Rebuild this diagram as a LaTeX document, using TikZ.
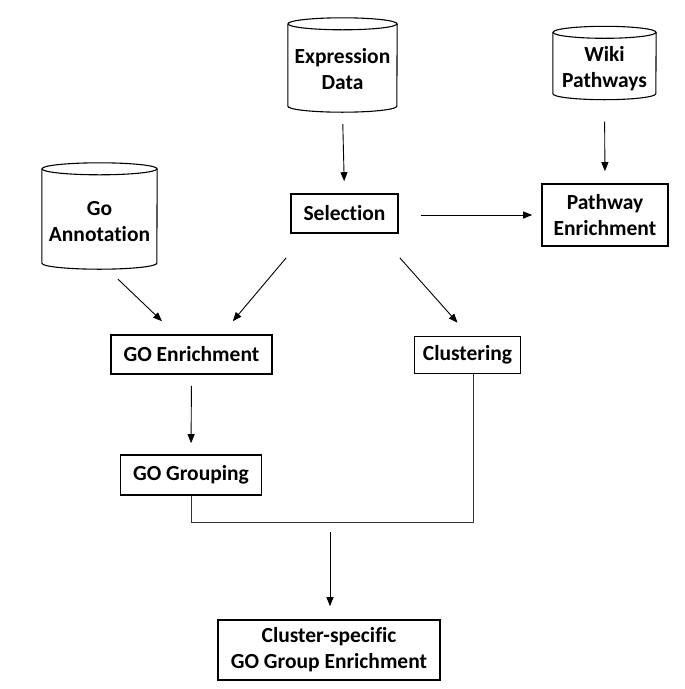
\documentclass[tikz,border=0pt]{standalone}
\usepackage{fontspec}
\setmainfont{Carlito}[Ligatures=NoCommon]
\usetikzlibrary{arrows.meta,calc}

% a data-store drum: name, centre, width, height, label shift, label
\newcommand\drumnode[6]{%
  \node[minimum width=#3pt, minimum height=#4pt] (#1) at (#2) {};
  \draw[drumline] ($(#1.north west)+(0,6)$) -- ($(#1.south west)+(0,-6)$)
    arc[start angle=180, end angle=360, x radius=#3pt/2, y radius=6pt]
    -- ($(#1.north east)+(0,6)$);
  \draw[drumline] ($(#1.north)+(0,6)$) ellipse [x radius=#3pt/2, y radius=6pt];
  \node (#1txt) at ($(#1.center)+(0,#5)$) {#6};
}

\begin{document}
\begin{tikzpicture}[x=1pt,y=-1pt,
  every node/.style={font=\bfseries\fontsize{21.5}{26}\selectfont, align=center, inner sep=0pt},
  procbox/.style={draw, rectangle, line width=1.6pt},
  drumline/.style={line width=1.1pt},
  conn/.style={-{Triangle[length=9pt,width=7pt]}, line width=0.9pt},
  link/.style={line width=0.9pt, draw=black!80}
]
\useasboundingbox (0,0) rectangle (685,689);

% data sources
\drumnode{expr}{342.5,65}{109}{94}{4}{Expression\\Data}
\drumnode{wiki}{604.5,63}{103}{73}{6}{Wiki\\Pathways}
\drumnode{goann}{99.5,216}{115}{106}{6}{Go\\Annotation}

% processing steps
\node[procbox, minimum width=107pt, minimum height=39pt] (sel) at (344.5,213.5) {Selection};
\node[procbox, minimum width=126pt, minimum height=62pt] (path) at (605,215) {Pathway\\Enrichment};
\node[procbox, minimum width=161pt, minimum height=39pt] (goenr) at (191.5,354.5) {GO Enrichment};
\node[procbox, minimum width=106pt, minimum height=37pt] (clust) at (467.5,355) {Clustering};
\node[procbox, minimum width=141pt, minimum height=40pt] (gogrp) at (191,475) {GO Grouping};
\node[procbox, minimum width=222pt, minimum height=60pt] (final) at (329,650) {Cluster-specific\\GO Group Enrichment};

% flow arrows
\draw[conn, shorten <=12pt, shorten >=12pt] (expr.south) -- (sel.north);
\draw[conn, shorten <=22pt, shorten >=12pt] (wiki.south) -- (path.north);
\draw[conn] ($(sel.east)+(22,1.5)$) -- ($(path.west)+(-9,0)$);
\draw[conn] ($(goann.south)+(18.5,10)$) -- ($(goenr.north)+(-29.5,-13)$);
\draw[conn] ($(sel.south west)+(-4,24)$) -- ($(goenr.north east)+(-40,-13)$);
\draw[conn] ($(sel.south east)+(1,24)$) -- ($(clust.north)+(-10,-13)$);
\draw[conn, shorten <=11pt, shorten >=11pt] (goenr.south) -- (gogrp.north);

% merge of grouping and clustering into the final step
\draw[link] (gogrp.south) -- ++(0,26.5) -| ($(clust.south)+(5.5,0)$);
\coordinate (mid) at (330,521);
\draw[conn, shorten >=13pt] ($(mid)+(0,11)$) -- (final.north -| mid);
\end{tikzpicture}
\end{document}
